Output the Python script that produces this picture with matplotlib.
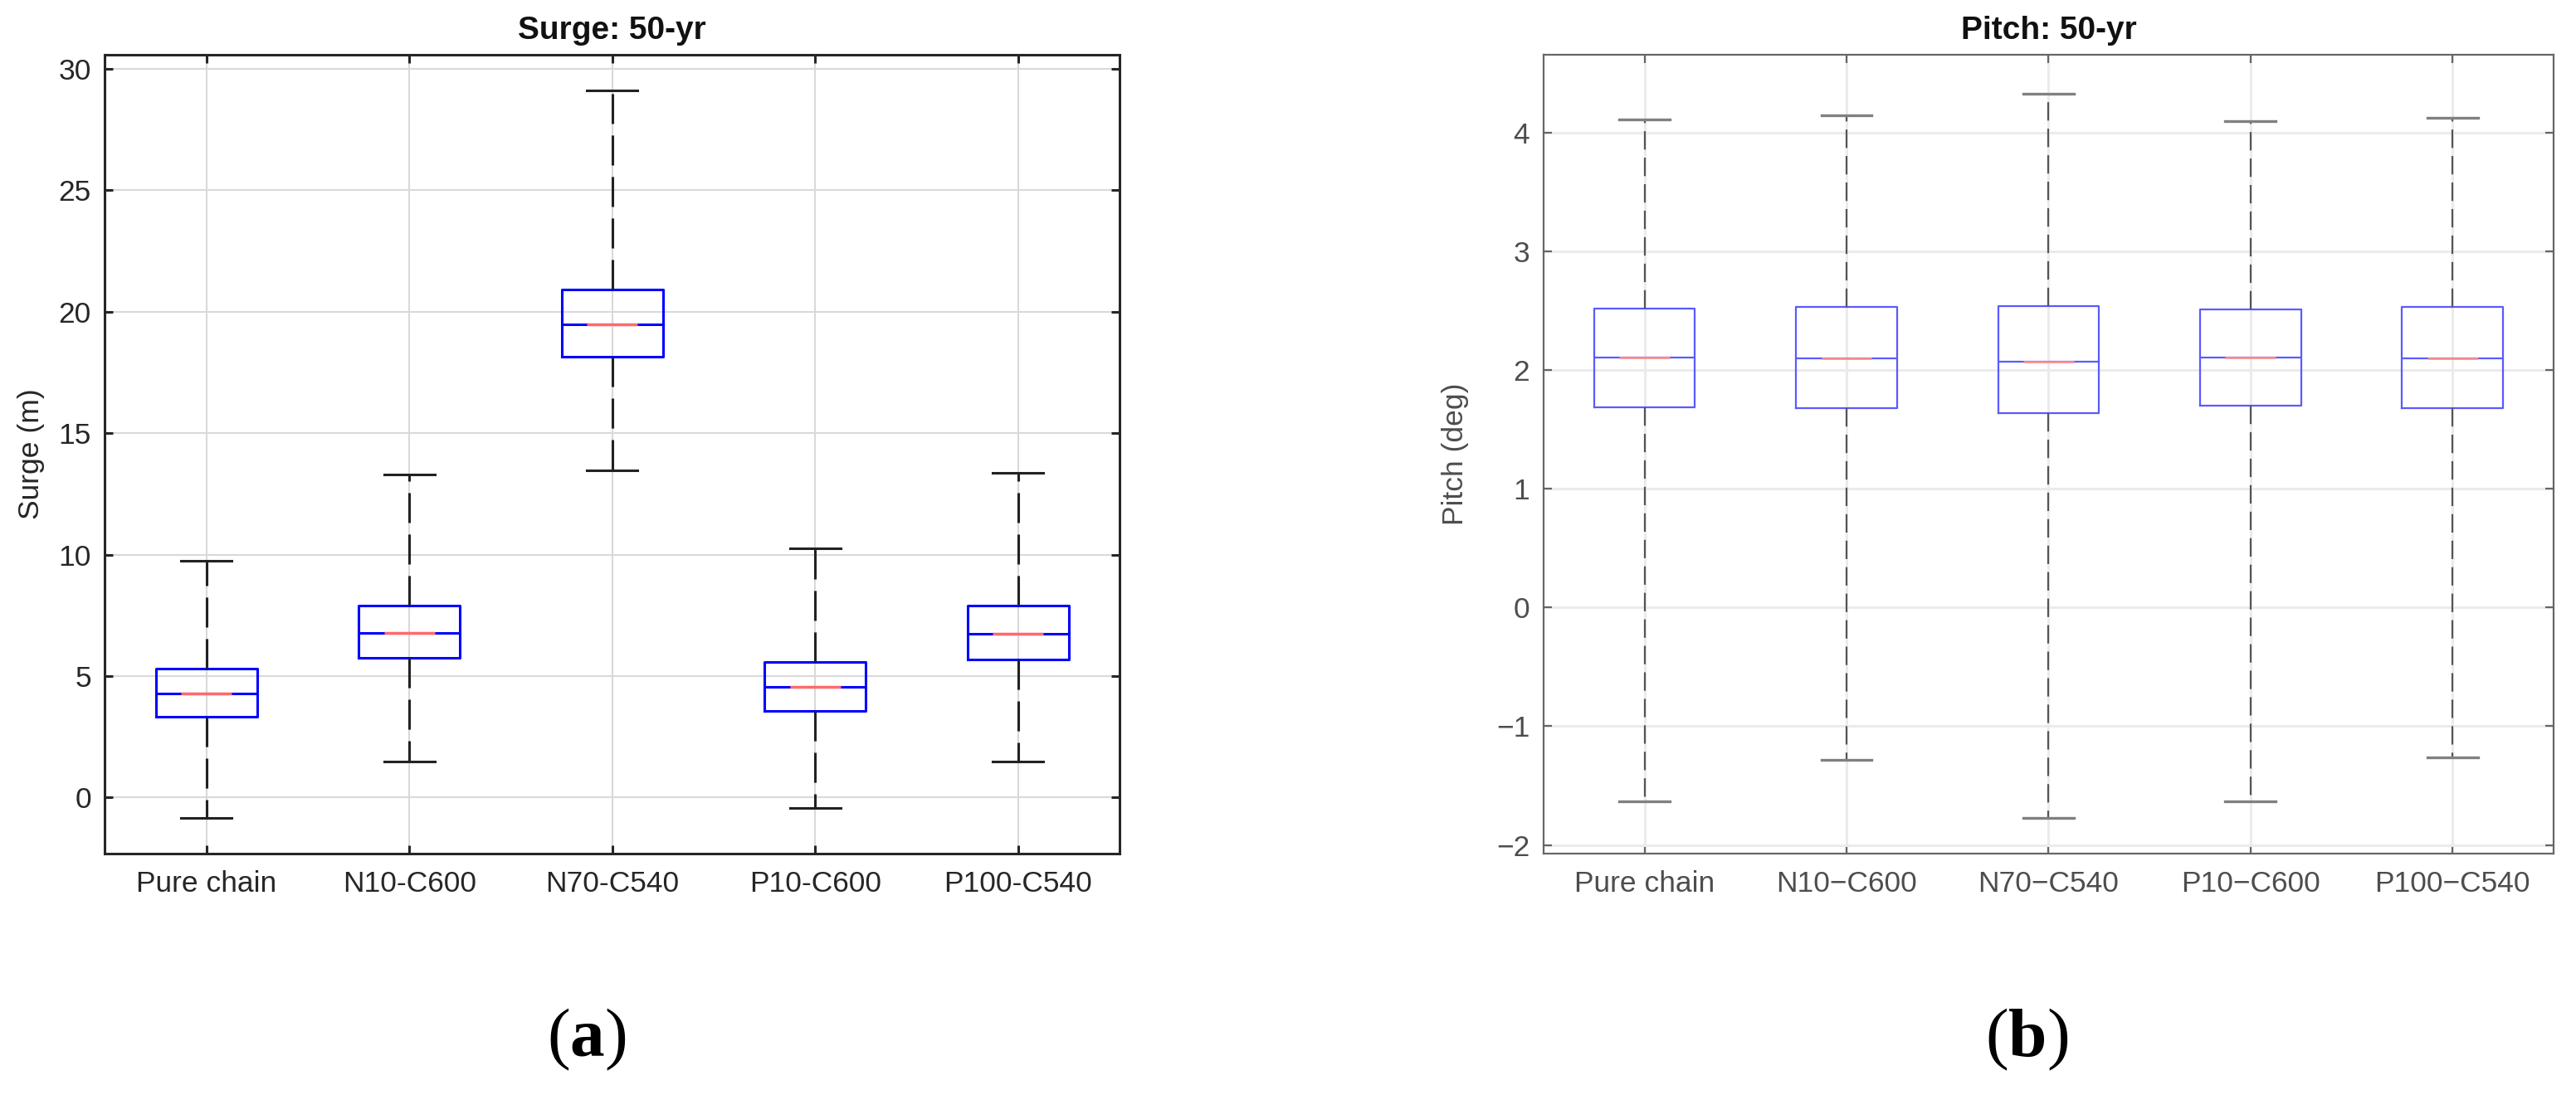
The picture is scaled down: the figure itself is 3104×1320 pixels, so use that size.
import numpy as np
import matplotlib
matplotlib.use("Agg")
import matplotlib.pyplot as plt

# values (box stats per mooring case)
categories = ['Pure chain', 'N10-C600', 'N70-C540', 'P10-C600', 'P100-C540']

surge_low = [-0.85, 1.46, 13.48, -0.43, 1.46]
surge_q1 = [3.32, 5.73, 18.16, 3.57, 5.68]
surge_med = [4.27, 6.78, 19.48, 4.56, 6.74]
surge_q3 = [5.31, 7.90, 20.90, 5.58, 7.89]
surge_high = [9.76, 13.30, 29.11, 10.25, 13.35]

pitch_low = [-1.63, -1.28, -1.77, -1.63, -1.26]
pitch_q1 = [1.69, 1.68, 1.64, 1.70, 1.68]
pitch_med = [2.11, 2.10, 2.075, 2.11, 2.10]
pitch_q3 = [2.52, 2.53, 2.54, 2.51, 2.53]
pitch_high = [4.11, 4.15, 4.33, 4.10, 4.13]

surge_ticks = [0, 5, 10, 15, 20, 25, 30]
pitch_ticks = [-2, -1, 0, 1, 2, 3, 4]

plt.rcParams['font.family'] = ['Liberation Sans', 'DejaVu Sans']
plt.rcParams['lines.scale_dashes'] = False
plt.rcParams['mathtext.fontset'] = 'custom'
plt.rcParams['mathtext.rm'] = 'Liberation Serif'
plt.rcParams['mathtext.bf'] = 'Liberation Serif:bold'

fig = plt.figure(figsize=(31.04, 13.2), dpi=100)
ax1 = fig.add_axes([0.04075, 0.2208, 0.3939, 0.7289])
ax2 = fig.add_axes([0.5992, 0.2208, 0.3921, 0.7289])

pos = np.arange(1, len(categories) + 1)


def draw_panel(ax, lows, q1s, meds, q3s, highs, st):
    stats = [dict(whislo=lo, q1=a, med=m, q3=b, whishi=hi, fliers=[])
             for lo, a, m, b, hi in zip(lows, q1s, meds, q3s, highs)]
    ax.bxp(stats, positions=pos, widths=0.5, capwidths=0.25, showfliers=False,
           manage_ticks=False,
           boxprops=dict(color=st['box'], lw=st['box_lw']),
           medianprops=dict(color=st['box'], lw=st['box_lw']),
           whiskerprops=dict(color=st['whisk'], lw=st['whisk_lw'],
                             linestyle=(0, st['dash'])),
           capprops=dict(color=st['cap'], lw=st['cap_lw']))
    # red median segment in the middle of the blue median line
    ax.hlines(meds, pos - 0.125, pos + 0.125, color=st['med'], lw=st['box_lw'] + 0.3, zorder=4)
    ax.set_xlim(0.5, 5.5)
    ax.set_xticks(pos)
    ax.grid(True, color=st['grid'], lw=st['grid_lw'])
    ax.set_axisbelow(True)
    ax.tick_params(direction='in', length=7, width=st['spine_lw'], top=True, right=True,
                   labelsize=25.5, colors=st['spine'], labelcolor=st['text'])
    ax.tick_params(axis='x', pad=15)
    ax.tick_params(axis='y', pad=12)
    for s in ax.spines.values():
        s.set_color(st['spine'])
        s.set_linewidth(st['spine_lw'])


left_style = dict(box='#0000ff', box_lw=2.2, med='#ff6a6a', whisk='#222222', whisk_lw=2.2,
                  dash=(26, 10), cap='#222222', cap_lw=2.2, grid='#d9d9d9', grid_lw=1.5,
                  spine='#262626', spine_lw=2.2, text='#262626')
right_style = dict(box='#5a5aff', box_lw=1.6, med='#ff8c8c', whisk='#555555', whisk_lw=1.6,
                   dash=(16, 7), cap='#808080', cap_lw=2.4, grid='#ebebeb', grid_lw=2.2,
                   spine='#666666', spine_lw=1.6, text='#4d4d4d')

draw_panel(ax1, surge_low, surge_q1, surge_med, surge_q3, surge_high, left_style)
ax1.set_ylim(-2.3, 30.57)
ax1.set_yticks(surge_ticks)
ax1.set_xticklabels(categories)
ax1.set_ylabel('Surge (m)', fontsize=25.5, color='#262626')
ax1.yaxis.set_label_coords(-0.059, 0.5)
ax1.set_title('Surge: 50-yr', fontsize=28, fontweight='bold', color='#111111', pad=14)

draw_panel(ax2, pitch_low, pitch_q1, pitch_med, pitch_q3, pitch_high, right_style)
ax2.set_ylim(-2.07, 4.655)
ax2.set_yticks(pitch_ticks)
ax2.set_xticklabels([c.replace('-', '\u2212') for c in categories])
ax2.set_ylabel('Pitch (deg)', fontsize=25.5, color='#4d4d4d')
ax2.yaxis.set_label_coords(-0.074, 0.5)
ax2.set_title('Pitch: 50-yr', fontsize=28, fontweight='bold', color='#111111', pad=14)

fig.text(0.2278, 0.0508, r'$(\mathbf{a})$', fontsize=60, ha='center', va='center')
fig.text(0.7867, 0.0508, r'$(\mathbf{b})$', fontsize=60, ha='center', va='center')

fig.savefig('out.png', dpi=100, facecolor='white')
